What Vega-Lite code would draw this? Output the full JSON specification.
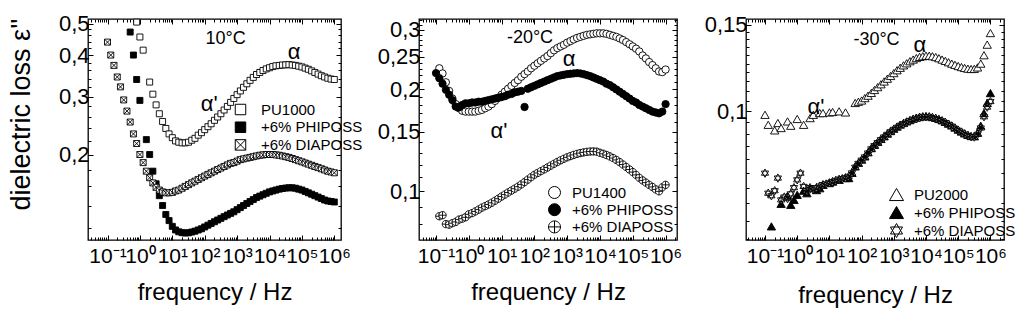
{
  "$schema": "https://vega.github.io/schema/vega-lite/v6.json",
  "background": "white",
  "padding": {"left": 6, "top": 8, "right": 0, "bottom": 0},
  "datasets": {
    "pts": [
      {"panel": 1, "series": "PU1000",
       "f": [0.794,1,1.26,2,2.51,3.16,3.98,5.01,6.31,7.94,10,12.6,15.8,20,25.1,31.6,39.8,50.1,63.1,79.4,100,126,158,200,251,316,398,501,631,794,1000,1260,1580,2000,2510,3160,3980,5010,6310,7940,10000,12600,15800,20000,25100,31600,39800,50100,63100,79400,100000,126000,158000,200000,251000,316000,398000,501000,631000,794000,1000000],
       "e": [0.505,0.455,0.415,0.332,0.305,0.283,0.266,0.252,0.240,0.231,0.225,0.220,0.218,0.217,0.217,0.218,0.221,0.224,0.229,0.233,0.238,0.243,0.248,0.254,0.260,0.266,0.273,0.280,0.288,0.296,0.304,0.312,0.320,0.328,0.336,0.343,0.350,0.355,0.360,0.364,0.367,0.370,0.372,0.373,0.374,0.3745,0.375,0.374,0.373,0.371,0.369,0.366,0.363,0.359,0.355,0.351,0.347,0.344,0.341,0.339,0.338]},
      {"panel": 1, "series": "+6% PHIPOSS",
       "f": [0.501,0.631,0.794,1,1.58,2,2.51,3.16,3.98,5.01,6.31,7.94,10,12.6,15.8,20,25.1,31.6,39.8,50.1,63.1,79.4,100,126,158,200,251,316,398,501,631,794,1000,1260,1580,2000,2510,3160,3980,5010,6310,7940,10000,12600,15800,20000,25100,31600,39800,50100,63100,79400,100000,126000,158000,200000,251000,316000,398000,501000,631000,794000,1000000],
       "e": [0.471,0.401,0.338,0.292,0.222,0.200,0.178,0.163,0.150,0.140,0.1315,0.126,0.121,0.118,0.1165,0.1158,0.1155,0.1157,0.1163,0.117,0.118,0.119,0.1205,0.122,0.1235,0.125,0.1265,0.128,0.1295,0.131,0.1325,0.134,0.136,0.138,0.140,0.142,0.144,0.146,0.148,0.1495,0.151,0.1525,0.154,0.155,0.156,0.157,0.1577,0.1582,0.1585,0.1585,0.158,0.157,0.156,0.1545,0.153,0.1515,0.150,0.1485,0.147,0.1455,0.1445,0.144,0.1435]},
      {"panel": 1, "series": "+6% DIAPOSS",
       "f": [0.1,0.126,0.158,0.2,0.251,0.316,0.398,0.501,0.631,0.794,1,1.26,1.58,2,2.51,3.16,3.98,5.01,6.31,7.94,10,12.6,15.8,20,25.1,31.6,39.8,50.1,63.1,79.4,100,126,158,200,251,316,398,501,631,794,1000,1260,1580,2000,2510,3160,3980,5010,6310,7940,10000,12600,15800,20000,25100,31600,39800,50100,63100,79400,100000,126000,158000,200000,251000,316000,398000,501000,631000,794000,1000000],
       "e": [0.439,0.401,0.373,0.344,0.321,0.293,0.271,0.251,0.231,0.216,0.200,0.189,0.178,0.170,0.164,0.159,0.156,0.154,0.153,0.153,0.1535,0.155,0.156,0.158,0.160,0.162,0.164,0.166,0.168,0.170,0.172,0.174,0.176,0.178,0.180,0.182,0.184,0.186,0.188,0.189,0.191,0.193,0.194,0.195,0.196,0.197,0.198,0.199,0.1995,0.200,0.200,0.200,0.1995,0.199,0.198,0.197,0.196,0.1945,0.193,0.1915,0.190,0.1885,0.187,0.1855,0.184,0.1825,0.181,0.1795,0.178,0.177,0.176]},
      {"panel": 2, "series": "PU1400",
       "f": [0.126,0.158,0.2,0.251,0.316,0.398,0.501,0.631,0.794,1,1.26,1.58,2,2.51,3.16,3.98,5.01,6.31,7.94,10,12.6,15.8,20,25.1,31.6,39.8,50.1,63.1,79.4,100,126,158,200,251,316,398,501,631,794,1000,1260,1580,2000,2510,3160,3980,5010,6310,7940,10000,12600,15800,20000,25100,31600,39800,50100,63100,79400,100000,126000,158000,200000,251000,316000,398000,501000,631000,794000,1000000],
       "e": [0.231,0.223,0.210,0.198,0.188,0.181,0.176,0.173,0.172,0.172,0.172,0.172,0.173,0.174,0.176,0.178,0.181,0.185,0.189,0.193,0.197,0.201,0.205,0.209,0.213,0.218,0.222,0.226,0.231,0.235,0.239,0.243,0.247,0.251,0.256,0.261,0.265,0.268,0.271,0.275,0.278,0.281,0.284,0.286,0.288,0.290,0.291,0.292,0.293,0.293,0.293,0.292,0.290,0.288,0.286,0.283,0.280,0.276,0.272,0.268,0.264,0.259,0.252,0.247,0.241,0.236,0.231,0.226,0.225,0.229]},
      {"panel": 2, "series": "+6% PHIPOSS",
       "f": [0.1,0.126,0.158,0.2,0.251,0.316,0.398,0.501,0.631,0.794,1,1.26,1.58,2,2.51,3.16,3.98,5.01,6.31,7.94,10,12.6,15.8,20,25.1,31.6,39.8,50.1,63.1,79.4,100,126,158,200,251,316,398,501,631,794,1000,1260,1580,2000,2510,3160,3980,5010,6310,7940,10000,12600,15800,20000,25100,31600,39800,50100,63100,79400,100000,126000,158000,200000,251000,316000,398000,501000,631000,794000,1000000],
       "e": [0.2235,0.216,0.208,0.1995,0.193,0.186,0.178,0.177,0.180,0.182,0.182,0.183,0.183,0.184,0.184,0.185,0.186,0.187,0.188,0.189,0.190,0.191,0.193,0.194,0.196,0.197,0.198,0.1775,0.201,0.203,0.205,0.207,0.209,0.211,0.213,0.215,0.217,0.219,0.220,0.221,0.222,0.2225,0.223,0.2235,0.223,0.222,0.2205,0.219,0.217,0.215,0.213,0.211,0.208,0.206,0.203,0.200,0.197,0.194,0.191,0.188,0.185,0.183,0.180,0.178,0.176,0.174,0.172,0.171,0.170,0.172,0.181]},
      {"panel": 2, "series": "+6% DIAPOSS",
       "f": [0.126,0.158,0.2,0.251,0.316,0.398,0.501,0.631,0.794,1,1.26,1.58,2,2.51,3.16,3.98,5.01,6.31,7.94,10,12.6,15.8,20,25.1,31.6,39.8,50.1,63.1,79.4,100,126,158,200,251,316,398,501,631,794,1000,1260,1580,2000,2510,3160,3980,5010,6310,7940,10000,12600,15800,20000,25100,31600,39800,50100,63100,79400,100000,126000,158000,200000,251000,316000,398000,501000,631000,794000,1000000],
       "e": [0.0844,0.0850,0.0800,0.0797,0.0805,0.0812,0.0825,0.0830,0.0838,0.0855,0.0862,0.0872,0.0883,0.0895,0.0904,0.0914,0.0925,0.0938,0.0951,0.0965,0.0978,0.0992,0.1005,0.1018,0.1032,0.1048,0.1065,0.1083,0.1101,0.1119,0.1133,0.1147,0.1161,0.1176,0.1191,0.1206,0.1221,0.1235,0.1248,0.1260,0.1271,0.1281,0.1290,0.1297,0.1303,0.1308,0.1311,0.1312,0.1310,0.1300,0.1291,0.1280,0.1268,0.1254,0.1238,0.1220,0.1200,0.1180,0.1160,0.1140,0.1118,0.1096,0.1077,0.1061,0.1045,0.1030,0.1013,0.1000,0.1028,0.1045]},
      {"panel": 3, "series": "PU2000",
       "f": [0.1,0.126,0.2,0.251,0.316,0.501,0.631,1,1.58,2.51,3.16,5.01,6.31,10,12.6,20,31.6,63.1,79.4,100,126,158,200,251,316,398,501,631,794,1000,1260,1580,2000,2510,3160,3980,5010,6310,7940,10000,12600,15800,20000,25100,31600,39800,50100,63100,79400,100000,126000,158000,200000,251000,316000,398000,501000,631000,794000,1000000],
       "e": [0.0984,0.0939,0.0915,0.0947,0.0925,0.0954,0.0935,0.0965,0.0939,0.0969,0.0984,0.0992,0.0992,0.0995,0.0997,0.1,0.0995,0.1040,0.1046,0.1052,0.1064,0.1076,0.1090,0.1105,0.1120,0.1135,0.1150,0.1165,0.1180,0.1196,0.1212,0.1226,0.1240,0.1252,0.1264,0.1274,0.1283,0.1290,0.1294,0.1297,0.1297,0.1294,0.1289,0.1282,0.1274,0.1266,0.1258,0.1250,0.1243,0.1236,0.1230,0.1225,0.1221,0.1219,0.1220,0.1228,0.1250,0.1300,0.1366,0.1442]},
      {"panel": 3, "series": "+6% PHIPOSS",
       "f": [0.158,0.316,0.501,0.631,0.794,1,1.58,2,2.51,3.98,5.01,6.31,10,12.6,20,31.6,39.8,50.1,63.1,79.4,100,126,158,200,251,316,398,501,631,794,1000,1260,1580,2000,2510,3160,3980,5010,6310,7940,10000,12600,15800,20000,25100,31600,39800,50100,63100,79400,100000,126000,158000,200000,251000,316000,398000,501000,631000,794000,1000000],
       "e": [0.0584,0.0649,0.0674,0.0646,0.0661,0.0677,0.0690,0.0682,0.0698,0.0692,0.0698,0.0709,0.0715,0.0720,0.0726,0.0732,0.0732,0.0750,0.0773,0.0786,0.0798,0.0810,0.0826,0.0842,0.0855,0.0867,0.0879,0.0890,0.0901,0.0912,0.0922,0.0931,0.0940,0.0947,0.0954,0.0960,0.0966,0.0971,0.0975,0.0977,0.0978,0.0977,0.0974,0.0970,0.0965,0.0959,0.0952,0.0944,0.0936,0.0927,0.0918,0.0910,0.0902,0.0896,0.0891,0.0890,0.0905,0.0935,0.0992,0.1040,0.1089]},
      {"panel": 3, "series": "+6% DIAPOSS",
       "f": [0.1,0.126,0.158,0.2,0.251,0.316,0.398,0.501,0.631,0.794,1,1.26,1.58,2,2.51,3.16,3.98,5.01,6.31,7.94,10,12.6,15.8,20,25.1,31.6,39.8,50.1,63.1,79.4,100,126,158,200,251,316,398,501,631,794,1000,1260,1580,2000,2510,3160,3980,5010,6310,7940,10000,12600,15800,20000,25100,31600,39800,50100,63100,79400,100000,126000,158000,200000,251000,316000,398000,501000,631000,794000,1000000],
       "e": [0.0749,0.0682,0.0674,0.0690,0.0732,0.0661,0.0670,0.0665,0.0680,0.0700,0.0726,0.0749,0.0704,0.0690,0.0700,0.0695,0.0700,0.0705,0.0710,0.0712,0.0716,0.0720,0.0724,0.0728,0.0730,0.0733,0.0738,0.0750,0.0770,0.0784,0.0796,0.0808,0.0823,0.0839,0.0852,0.0864,0.0876,0.0887,0.0898,0.0909,0.0919,0.0928,0.0937,0.0944,0.0951,0.0957,0.0963,0.0968,0.0972,0.0974,0.0975,0.0974,0.0971,0.0967,0.0962,0.0956,0.0949,0.0941,0.0933,0.0924,0.0915,0.0907,0.0899,0.0893,0.0888,0.0887,0.0898,0.0925,0.0975,0.1020,0.1047]}
    ],
    "ann": [
      {"panel": 1, "kind": "temp", "label": "10°C", "f": 445, "e": 0.448},
      {"panel": 1, "kind": "relax", "label": "α", "f": 57000, "e": 0.41},
      {"panel": 1, "kind": "relax", "label": "α'", "f": 138, "e": 0.285},
      {"panel": 2, "kind": "temp", "label": "-20°C", "f": 73.5, "e": 0.284},
      {"panel": 2, "kind": "relax", "label": "α", "f": 1135, "e": 0.246},
      {"panel": 2, "kind": "relax", "label": "α'", "f": 8.3, "e": 0.1505},
      {"panel": 3, "kind": "temp", "label": "-30°C", "f": 290, "e": 0.1393},
      {"panel": 3, "kind": "relax", "label": "α", "f": 6460, "e": 0.1364},
      {"panel": 3, "kind": "relax", "label": "α'", "f": 3.84, "e": 0.102}
    ]
  },
  "spacing": 78,
  "bounds": "flush",
  "resolve": {"scale": {"shape": "independent", "fill": "independent", "stroke": "independent"}, "legend": {"shape": "independent", "fill": "independent", "stroke": "independent"}},
  "hconcat": [
    {
      "width": 253, "height": 221,
      "layer": [
        {
          "data": {"name": "pts"},
          "transform": [{"filter": "datum.panel == 1"}, {"flatten": ["f", "e"]}],
          "mark": {"type": "point", "filled": true, "strokeWidth": 0.9, "opacity": 1, "size": 36},
          "encoding": {
            "x": {"field": "f", "type": "quantitative",
              "scale": {"type": "log", "domain": [0.025, 1610000], "nice": false},
              "axis": {"orient": "bottom", "title": "frequency / Hz", "tickCount": 20,
                "labelExpr": "abs(log(datum.value)/LN10 - round(log(datum.value)/LN10)) < 0.01 ? '10' + ['⁻¹','⁰','¹','²','³','⁴','⁵','⁶'][round(log(datum.value)/LN10) + 1] : ''",
                "tickSize": {"condition": {"test": "abs(log(datum.value)/LN10 - round(log(datum.value)/LN10)) < 0.01", "value": -5}, "value": -3},
                "labelFontSize": 21, "labelBaseline": "alphabetic", "labelPadding": 27,
                "titleFontSize": 24, "titleBaseline": "alphabetic", "titleY": 59}},
            "y": {"field": "e", "type": "quantitative",
              "scale": {"type": "log", "domain": [0.11, 0.516], "nice": false},
              "axis": {"orient": "left", "title": "dielectric loss ε''",
                "values": [0.12,0.14,0.16,0.18,0.2,0.22,0.24,0.26,0.28,0.3,0.32,0.34,0.36,0.38,0.4,0.42,0.44,0.46,0.48,0.5],
                "labelExpr": "abs(datum.value*10 - round(datum.value*10)) < 0.001 ? replace(format(datum.value, '.1f'), '.', ',') : ''",
                "tickSize": {"condition": {"test": "abs(datum.value*10 - round(datum.value*10)) < 0.001", "value": -5}, "value": -3},
                "labelFontSize": 22, "labelPadding": 4,
                "titleFontSize": 27, "titleX": -67, "titleY": 95, "titleBaseline": "middle", "titleAlign": "center"}},
            "shape": {"field": "series", "type": "nominal",
              "scale": {"domain": ["PU1000", "+6% PHIPOSS", "+6% DIAPOSS"], "range": ["square", "square", "M-1,-1L1,-1L1,1L-1,1Z M-1,-1L1,1 M1,-1L-1,1"]},
              "legend": {"title": null, "orient": "none", "legendX": 145, "legendY": 83, "symbolSize": 110, "labelOffset": 13, "clipHeight": 15, "rowPadding": 1.7}},
            "fill": {"field": "series", "type": "nominal",
              "scale": {"domain": ["PU1000", "+6% PHIPOSS", "+6% DIAPOSS"], "range": ["white", "black", "white"]},
              "legend": {"title": null, "orient": "none", "legendX": 145, "legendY": 83, "symbolSize": 110, "labelOffset": 13, "clipHeight": 15, "rowPadding": 1.7}},
            "stroke": {"field": "series", "type": "nominal",
              "scale": {"domain": ["PU1000", "+6% PHIPOSS", "+6% DIAPOSS"], "range": ["black", "black", "black"]},
              "legend": {"title": null, "orient": "none", "legendX": 145, "legendY": 83, "symbolSize": 110, "labelOffset": 13, "clipHeight": 15, "rowPadding": 1.7}}
          }
        },
        {
          "data": {"name": "ann"},
          "transform": [{"filter": "datum.panel == 1"}],
          "mark": {"type": "text", "color": "black", "baseline": "middle", "align": "center"},
          "encoding": {
            "x": {"field": "f", "type": "quantitative",
              "scale": {"type": "log", "domain": [0.025, 1610000], "nice": false},
              "axis": {"orient": "top", "labels": false, "title": null, "tickCount": 20,
                "tickSize": {"condition": {"test": "abs(log(datum.value)/LN10 - round(log(datum.value)/LN10)) < 0.01", "value": -5}, "value": -3}}},
            "y": {"field": "e", "type": "quantitative",
              "scale": {"type": "log", "domain": [0.11, 0.516], "nice": false},
              "axis": {"orient": "right", "labels": false, "title": null,
                "values": [0.12,0.14,0.16,0.18,0.2,0.22,0.24,0.26,0.28,0.3,0.32,0.34,0.36,0.38,0.4,0.42,0.44,0.46,0.48,0.5],
                "tickSize": {"condition": {"test": "abs(datum.value*10 - round(datum.value*10)) < 0.001", "value": -5}, "value": -3}}},
            "text": {"field": "label", "type": "nominal"},
            "size": {"condition": {"test": "datum.kind == 'temp'", "value": 18}, "value": 22}
          }
        }
      ],
      "resolve": {"axis": {"x": "independent", "y": "independent"}}
    },
    {
      "spacing": 69,
      "bounds": "flush",
      "resolve": {"scale": {"shape": "independent", "fill": "independent", "stroke": "independent"}, "legend": {"shape": "independent", "fill": "independent", "stroke": "independent"}},
      "hconcat": [
        {
          "width": 258, "height": 221,
          "layer": [
            {
              "data": {"name": "pts"},
              "transform": [{"filter": "datum.panel == 2"}, {"flatten": ["f", "e"]}],
              "mark": {"type": "point", "filled": true, "strokeWidth": 0.9, "opacity": 1, "size": 54},
              "encoding": {
                "x": {"field": "f", "type": "quantitative",
                  "scale": {"type": "log", "domain": [0.0303, 2230000], "nice": false},
                  "axis": {"orient": "bottom", "title": "frequency / Hz", "tickCount": 20,
                    "labelExpr": "abs(log(datum.value)/LN10 - round(log(datum.value)/LN10)) < 0.01 ? '10' + ['⁻¹','⁰','¹','²','³','⁴','⁵','⁶'][round(log(datum.value)/LN10) + 1] : ''",
                    "tickSize": {"condition": {"test": "abs(log(datum.value)/LN10 - round(log(datum.value)/LN10)) < 0.01", "value": -5}, "value": -3},
                    "labelFontSize": 21, "labelBaseline": "alphabetic", "labelPadding": 27,
                    "titleFontSize": 24, "titleBaseline": "alphabetic", "titleY": 59}},
                "y": {"field": "e", "type": "quantitative",
                  "scale": {"type": "log", "domain": [0.0718, 0.323], "nice": false},
                  "axis": {"orient": "left", "title": null,
                    "values": [0.08,0.09,0.1,0.11,0.12,0.13,0.14,0.15,0.16,0.17,0.18,0.19,0.2,0.21,0.22,0.23,0.24,0.25,0.26,0.27,0.28,0.29,0.3,0.31,0.32],
                    "labelExpr": "abs(datum.value*20 - round(datum.value*20)) < 0.001 ? replace(format(datum.value, '.2~f'), '.', ',') : ''",
                    "tickSize": {"condition": {"test": "abs(datum.value*20 - round(datum.value*20)) < 0.001", "value": -5}, "value": -3},
                    "labelFontSize": 22, "labelPadding": 4}},
                "shape": {"field": "series", "type": "nominal",
                  "scale": {"domain": ["PU1400", "+6% PHIPOSS", "+6% DIAPOSS"], "range": ["circle", "circle", "M1,0A1,1,0,1,1,-1,0A1,1,0,1,1,1,0Z M-1,0L1,0 M0,-1L0,1"]},
                  "legend": {"title": null, "orient": "none", "legendX": 128, "legendY": 166, "symbolSize": 144, "labelOffset": 10, "clipHeight": 15, "rowPadding": 1.2}},
                "fill": {"field": "series", "type": "nominal",
                  "scale": {"domain": ["PU1400", "+6% PHIPOSS", "+6% DIAPOSS"], "range": ["white", "black", "white"]},
                  "legend": {"title": null, "orient": "none", "legendX": 128, "legendY": 166, "symbolSize": 144, "labelOffset": 10, "clipHeight": 15, "rowPadding": 1.2}},
                "stroke": {"field": "series", "type": "nominal",
                  "scale": {"domain": ["PU1400", "+6% PHIPOSS", "+6% DIAPOSS"], "range": ["black", "black", "black"]},
                  "legend": {"title": null, "orient": "none", "legendX": 128, "legendY": 166, "symbolSize": 144, "labelOffset": 10, "clipHeight": 15, "rowPadding": 1.2}}
              }
            },
            {
              "data": {"name": "ann"},
              "transform": [{"filter": "datum.panel == 2"}],
              "mark": {"type": "text", "color": "black", "baseline": "middle", "align": "center"},
              "encoding": {
                "x": {"field": "f", "type": "quantitative",
                  "scale": {"type": "log", "domain": [0.0303, 2230000], "nice": false},
                  "axis": {"orient": "top", "labels": false, "title": null, "tickCount": 20,
                    "tickSize": {"condition": {"test": "abs(log(datum.value)/LN10 - round(log(datum.value)/LN10)) < 0.01", "value": -5}, "value": -3}}},
                "y": {"field": "e", "type": "quantitative",
                  "scale": {"type": "log", "domain": [0.0718, 0.323], "nice": false},
                  "axis": {"orient": "right", "labels": false, "title": null,
                    "values": [0.08,0.09,0.1,0.11,0.12,0.13,0.14,0.15,0.16,0.17,0.18,0.19,0.2,0.21,0.22,0.23,0.24,0.25,0.26,0.27,0.28,0.29,0.3,0.31,0.32],
                    "tickSize": {"condition": {"test": "abs(datum.value*20 - round(datum.value*20)) < 0.001", "value": -5}, "value": -3}}},
                "text": {"field": "label", "type": "nominal"},
                "size": {"condition": {"test": "datum.kind == 'temp'", "value": 18}, "value": 22}
              }
            }
          ],
          "resolve": {"axis": {"x": "independent", "y": "independent"}}
        },
        {
          "width": 258, "height": 221,
          "layer": [
            {
              "data": {"name": "pts"},
              "transform": [{"filter": "datum.panel == 3"}, {"flatten": ["f", "e"]}],
              "mark": {"type": "point", "filled": true, "strokeWidth": 0.9, "opacity": 1, "size": 70},
              "encoding": {
                "x": {"field": "f", "type": "quantitative",
                  "scale": {"type": "log", "domain": [0.0257, 2640000], "nice": false},
                  "axis": {"orient": "bottom", "title": "frequency / Hz", "tickCount": 20,
                    "labelExpr": "abs(log(datum.value)/LN10 - round(log(datum.value)/LN10)) < 0.01 ? '10' + ['⁻¹','⁰','¹','²','³','⁴','⁵','⁶'][round(log(datum.value)/LN10) + 1] : ''",
                    "tickSize": {"condition": {"test": "abs(log(datum.value)/LN10 - round(log(datum.value)/LN10)) < 0.01", "value": -5}, "value": -3},
                    "labelFontSize": 21, "labelBaseline": "alphabetic", "labelPadding": 27,
                    "titleFontSize": 24, "titleBaseline": "alphabetic", "titleY": 62}},
                "y": {"field": "e", "type": "quantitative",
                  "scale": {"type": "log", "domain": [0.0548, 0.154], "nice": false},
                  "axis": {"orient": "left", "title": null,
                    "values": [0.055,0.06,0.065,0.07,0.075,0.08,0.085,0.09,0.095,0.1,0.105,0.11,0.115,0.12,0.125,0.13,0.135,0.14,0.145,0.15],
                    "labelExpr": "abs(datum.value*20 - round(datum.value*20)) < 0.001 ? replace(format(datum.value, '.2~f'), '.', ',') : ''",
                    "tickSize": {"condition": {"test": "abs(datum.value*20 - round(datum.value*20)) < 0.001", "value": -5}, "value": -3},
                    "labelFontSize": 22, "labelPadding": 4}},
                "shape": {"field": "series", "type": "nominal",
                  "scale": {"domain": ["PU2000", "+6% PHIPOSS", "+6% DIAPOSS"], "range": ["triangle-up", "triangle-up", "M0,-1L0.866,0.5L-0.866,0.5Z M0,1L0.866,-0.5L-0.866,-0.5Z"]},
                  "legend": {"title": null, "orient": "none", "legendX": 143, "legendY": 168, "symbolSize": 196, "labelOffset": 10, "clipHeight": 15, "rowPadding": 2}},
                "fill": {"field": "series", "type": "nominal",
                  "scale": {"domain": ["PU2000", "+6% PHIPOSS", "+6% DIAPOSS"], "range": ["white", "black", "white"]},
                  "legend": {"title": null, "orient": "none", "legendX": 143, "legendY": 168, "symbolSize": 196, "labelOffset": 10, "clipHeight": 15, "rowPadding": 2}},
                "stroke": {"field": "series", "type": "nominal",
                  "scale": {"domain": ["PU2000", "+6% PHIPOSS", "+6% DIAPOSS"], "range": ["black", "black", "black"]},
                  "legend": {"title": null, "orient": "none", "legendX": 143, "legendY": 168, "symbolSize": 196, "labelOffset": 10, "clipHeight": 15, "rowPadding": 2}}
              }
            },
            {
              "data": {"name": "ann"},
              "transform": [{"filter": "datum.panel == 3"}],
              "mark": {"type": "text", "color": "black", "baseline": "middle", "align": "center"},
              "encoding": {
                "x": {"field": "f", "type": "quantitative",
                  "scale": {"type": "log", "domain": [0.0257, 2640000], "nice": false},
                  "axis": {"orient": "top", "labels": false, "title": null, "tickCount": 20,
                    "tickSize": {"condition": {"test": "abs(log(datum.value)/LN10 - round(log(datum.value)/LN10)) < 0.01", "value": -5}, "value": -3}}},
                "y": {"field": "e", "type": "quantitative",
                  "scale": {"type": "log", "domain": [0.0548, 0.154], "nice": false},
                  "axis": {"orient": "right", "labels": false, "title": null,
                    "values": [0.055,0.06,0.065,0.07,0.075,0.08,0.085,0.09,0.095,0.1,0.105,0.11,0.115,0.12,0.125,0.13,0.135,0.14,0.145,0.15],
                    "tickSize": {"condition": {"test": "abs(datum.value*20 - round(datum.value*20)) < 0.001", "value": -5}, "value": -3}}},
                "text": {"field": "label", "type": "nominal"},
                "size": {"condition": {"test": "datum.kind == 'temp'", "value": 18}, "value": 22}
              }
            }
          ],
          "resolve": {"axis": {"x": "independent", "y": "independent"}}
        }
      ]
    }
  ],
  "config": {
    "font": "Liberation Sans",
    "view": {"stroke": "black", "strokeWidth": 1.3},
    "axis": {"domain": false, "grid": false, "labelColor": "black", "titleColor": "black", "tickColor": "black", "tickWidth": 1,
      "labelOverlap": false, "labelBound": false, "labelFlush": false, "titleFontWeight": "normal",
      "labelFont": "Liberation Sans", "titleFont": "Liberation Sans"},
    "legend": {"labelColor": "black", "labelFont": "Liberation Sans", "labelFontSize": 15, "padding": 0,
      "symbolStrokeWidth": 1, "labelLimit": 200}
  }
}
